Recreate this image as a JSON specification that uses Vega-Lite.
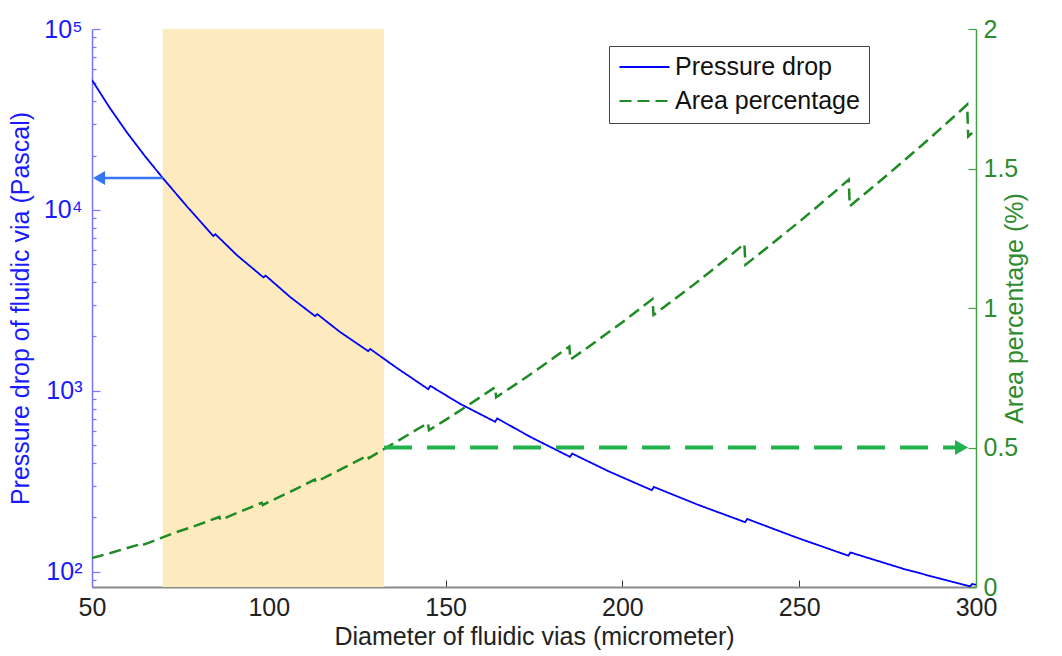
{
  "$schema": "https://vega.github.io/schema/vega-lite/v6.json",
  "autosize": "none",
  "width": 884,
  "height": 558,
  "padding": {"left": 92, "top": 29, "right": 86, "bottom": 69},
  "background": "white",
  "config": {
    "font": "Liberation Sans",
    "view": {"stroke": null},
    "axis": {"grid": false, "titleFontWeight": "normal", "labelFontSize": 25, "titleFontSize": 25}
  },
  "datasets": {
    "pressure": [
      {"d": 50, "p": 52240, "series": "Pressure drop"},
      {"d": 55, "p": 36730, "series": "Pressure drop"},
      {"d": 60, "p": 26610, "series": "Pressure drop"},
      {"d": 65, "p": 19820, "series": "Pressure drop"},
      {"d": 70, "p": 15030, "series": "Pressure drop"},
      {"d": 77, "p": 10380, "series": "Pressure drop"},
      {"d": 84.3, "p": 7180, "series": "Pressure drop"},
      {"d": 84.9, "p": 7350, "series": "Pressure drop"},
      {"d": 91, "p": 5623, "series": "Pressure drop"},
      {"d": 98.5, "p": 4240, "series": "Pressure drop"},
      {"d": 99.1, "p": 4340, "series": "Pressure drop"},
      {"d": 106, "p": 3311, "series": "Pressure drop"},
      {"d": 113.1, "p": 2590, "series": "Pressure drop"},
      {"d": 113.7, "p": 2660, "series": "Pressure drop"},
      {"d": 120, "p": 2128, "series": "Pressure drop"},
      {"d": 128.1, "p": 1660, "series": "Pressure drop"},
      {"d": 128.7, "p": 1705, "series": "Pressure drop"},
      {"d": 136, "p": 1349, "series": "Pressure drop"},
      {"d": 145.1, "p": 1023, "series": "Pressure drop"},
      {"d": 145.7, "p": 1067, "series": "Pressure drop"},
      {"d": 154, "p": 851, "series": "Pressure drop"},
      {"d": 164, "p": 676, "series": "Pressure drop"},
      {"d": 164.6, "p": 705, "series": "Pressure drop"},
      {"d": 174, "p": 557, "series": "Pressure drop"},
      {"d": 185.2, "p": 432.5, "series": "Pressure drop"},
      {"d": 185.8, "p": 451, "series": "Pressure drop"},
      {"d": 196, "p": 360.6, "series": "Pressure drop"},
      {"d": 208.3, "p": 283.1, "series": "Pressure drop"},
      {"d": 208.9, "p": 295.1, "series": "Pressure drop"},
      {"d": 221, "p": 236.6, "series": "Pressure drop"},
      {"d": 234.7, "p": 188.4, "series": "Pressure drop"},
      {"d": 235.3, "p": 196.3, "series": "Pressure drop"},
      {"d": 249, "p": 155.6, "series": "Pressure drop"},
      {"d": 263.9, "p": 123.0, "series": "Pressure drop"},
      {"d": 264.5, "p": 128.2, "series": "Pressure drop"},
      {"d": 280, "p": 103.3, "series": "Pressure drop"},
      {"d": 298.3, "p": 83.2, "series": "Pressure drop"},
      {"d": 298.9, "p": 85.8, "series": "Pressure drop"},
      {"d": 300, "p": 85.0, "series": "Pressure drop"}
    ],
    "area": [
      {"d": 50, "a": 0.104, "series": "Area percentage"},
      {"d": 55, "a": 0.121, "series": "Area percentage"},
      {"d": 60, "a": 0.140, "series": "Area percentage"},
      {"d": 62.7, "a": 0.150, "series": "Area percentage"},
      {"d": 62.9, "a": 0.145, "series": "Area percentage"},
      {"d": 66, "a": 0.158, "series": "Area percentage"},
      {"d": 70, "a": 0.178, "series": "Area percentage"},
      {"d": 74, "a": 0.197, "series": "Area percentage"},
      {"d": 78, "a": 0.214, "series": "Area percentage"},
      {"d": 82, "a": 0.232, "series": "Area percentage"},
      {"d": 86, "a": 0.251, "series": "Area percentage"},
      {"d": 86.3, "a": 0.240, "series": "Area percentage"},
      {"d": 90, "a": 0.260, "series": "Area percentage"},
      {"d": 94, "a": 0.281, "series": "Area percentage"},
      {"d": 98, "a": 0.302, "series": "Area percentage"},
      {"d": 98.3, "a": 0.294, "series": "Area percentage"},
      {"d": 102, "a": 0.317, "series": "Area percentage"},
      {"d": 106, "a": 0.341, "series": "Area percentage"},
      {"d": 110, "a": 0.366, "series": "Area percentage"},
      {"d": 113, "a": 0.385, "series": "Area percentage"},
      {"d": 113.3, "a": 0.376, "series": "Area percentage"},
      {"d": 117, "a": 0.400, "series": "Area percentage"},
      {"d": 121, "a": 0.426, "series": "Area percentage"},
      {"d": 125, "a": 0.452, "series": "Area percentage"},
      {"d": 128, "a": 0.472, "series": "Area percentage"},
      {"d": 128.3, "a": 0.462, "series": "Area percentage"},
      {"d": 132, "a": 0.490, "series": "Area percentage"},
      {"d": 136, "a": 0.520, "series": "Area percentage"},
      {"d": 140, "a": 0.550, "series": "Area percentage"},
      {"d": 145, "a": 0.588, "series": "Area percentage"},
      {"d": 145.3, "a": 0.562, "series": "Area percentage"},
      {"d": 150, "a": 0.599, "series": "Area percentage"},
      {"d": 155, "a": 0.640, "series": "Area percentage"},
      {"d": 160, "a": 0.682, "series": "Area percentage"},
      {"d": 164, "a": 0.716, "series": "Area percentage"},
      {"d": 164.3, "a": 0.680, "series": "Area percentage"},
      {"d": 170, "a": 0.728, "series": "Area percentage"},
      {"d": 175, "a": 0.771, "series": "Area percentage"},
      {"d": 180, "a": 0.816, "series": "Area percentage"},
      {"d": 185, "a": 0.862, "series": "Area percentage"},
      {"d": 185.3, "a": 0.815, "series": "Area percentage"},
      {"d": 190, "a": 0.857, "series": "Area percentage"},
      {"d": 195, "a": 0.903, "series": "Area percentage"},
      {"d": 200, "a": 0.949, "series": "Area percentage"},
      {"d": 205, "a": 0.998, "series": "Area percentage"},
      {"d": 208.5, "a": 1.032, "series": "Area percentage"},
      {"d": 208.8, "a": 0.975, "series": "Area percentage"},
      {"d": 215, "a": 1.034, "series": "Area percentage"},
      {"d": 220, "a": 1.082, "series": "Area percentage"},
      {"d": 225, "a": 1.132, "series": "Area percentage"},
      {"d": 230, "a": 1.183, "series": "Area percentage"},
      {"d": 234.5, "a": 1.230, "series": "Area percentage"},
      {"d": 234.8, "a": 1.155, "series": "Area percentage"},
      {"d": 240, "a": 1.207, "series": "Area percentage"},
      {"d": 245, "a": 1.258, "series": "Area percentage"},
      {"d": 250, "a": 1.309, "series": "Area percentage"},
      {"d": 255, "a": 1.362, "series": "Area percentage"},
      {"d": 260, "a": 1.416, "series": "Area percentage"},
      {"d": 264, "a": 1.460, "series": "Area percentage"},
      {"d": 264.3, "a": 1.365, "series": "Area percentage"},
      {"d": 270, "a": 1.425, "series": "Area percentage"},
      {"d": 275, "a": 1.478, "series": "Area percentage"},
      {"d": 280, "a": 1.532, "series": "Area percentage"},
      {"d": 285, "a": 1.587, "series": "Area percentage"},
      {"d": 290, "a": 1.643, "series": "Area percentage"},
      {"d": 295, "a": 1.700, "series": "Area percentage"},
      {"d": 297.5, "a": 1.729, "series": "Area percentage"},
      {"d": 297.8, "a": 1.615, "series": "Area percentage"},
      {"d": 300, "a": 1.640, "series": "Area percentage"}
    ],
    "band": [{"start": 70, "end": 132.6}],
    "blueArrow": [{"from": 70, "to": 52, "level": 15000}],
    "greenArrow": [{"from": 132.6, "to": 295.9, "level": 0.5}]
  },
  "layer": [
    {
      "data": {"name": "band"},
      "mark": {"type": "rect", "color": "#fdebbf", "opacity": 1},
      "encoding": {
        "x": {"field": "start", "type": "quantitative", "scale": {"domain": [50, 300], "nice": false, "zero": false},
          "axis": {
            "orient": "bottom",
            "values": [50, 100, 150, 200, 250, 300],
            "title": "Diameter of fluidic vias (micrometer)",
            "labelColor": "#222222",
            "titleColor": "#222222",
            "domainColor": "#8a8a8a",
            "domainWidth": 2,
            "tickColor": "#333333",
            "tickSize": -7,
            "tickWidth": 1,
            "labelPadding": 15,
            "titlePadding": 4,
            "labelFlush": false
          }
        },
        "x2": {"field": "end"}
      }
    },
    {
      "layer": [
        {
          "data": {"name": "pressure"},
          "mark": {"type": "line", "strokeWidth": 1.8, "clip": true},
          "encoding": {
            "x": {"field": "d", "type": "quantitative"},
            "y": {"field": "p", "type": "quantitative",
              "scale": {"type": "log", "domain": [82.6, 100000], "nice": false},
              "axis": {
                "orient": "left",
                "values": [90, 100, 200, 300, 400, 500, 600, 700, 800, 900, 1000, 2000, 3000, 4000, 5000, 6000, 7000, 8000, 9000, 10000, 20000, 30000, 40000, 50000, 60000, 70000, 80000, 90000, 100000],
                "labelExpr": "datum.value === 100 ? '10²' : datum.value === 1000 ? '10³' : datum.value === 10000 ? '10⁴' : datum.value === 100000 ? '10⁵' : ''",
                "labelOverlap": false,
                "title": "Pressure drop of fluidic via (Pascal)",
                "labelColor": "#1a1aff",
                "titleColor": "#1a1aff",
                "domainColor": "#7777ff",
                "domainWidth": 1.5,
                "tickColor": "#7777ff",
                "tickSize": {"condition": {"test": "datum.value === 100 || datum.value === 1000 || datum.value === 10000 || datum.value === 100000", "value": -8}, "value": -4},
                "tickWidth": 1.2,
                "labelPadding": 18,
                "titlePadding": 10
              }
            },
            "color": {"field": "series", "type": "nominal",
              "scale": {"domain": ["Pressure drop", "Area percentage"], "range": ["#0000ff", "#1f8b24"]},
              "legend": {
                "title": null, "orient": "none", "legendX": 517, "legendY": 17,
                "symbolType": "stroke", "symbolSize": 2500, "symbolStrokeWidth": 2.2,
                "labelFontSize": 25, "labelColor": "#111111", "labelOffset": 4, "labelLimit": 400,
                "padding": 9, "rowPadding": 9, "clipHeight": 24,
                "strokeColor": "#444444", "fillColor": "white"
              }
            },
            "strokeDash": {"field": "series", "type": "nominal",
              "scale": {"domain": ["Pressure drop", "Area percentage"], "range": [[1, 0], [12, 6]]},
              "legend": {
                "title": null, "orient": "none", "legendX": 517, "legendY": 17,
                "symbolType": "stroke", "symbolSize": 2500, "symbolStrokeWidth": 2.2,
                "labelFontSize": 25, "labelColor": "#111111", "labelOffset": 4, "labelLimit": 400,
                "padding": 9, "rowPadding": 9, "clipHeight": 24,
                "strokeColor": "#444444", "fillColor": "white"
              }
            }
          }
        },
        {
          "data": {"name": "blueArrow"},
          "mark": {"type": "rule", "color": "#3574f2", "strokeWidth": 2.5},
          "encoding": {
            "x": {"field": "from", "type": "quantitative"},
            "x2": {"field": "to"},
            "y": {"field": "level", "type": "quantitative"}
          }
        },
        {
          "data": {"name": "blueArrow"},
          "mark": {"type": "point", "shape": "triangle-left", "filled": true, "color": "#3574f2", "size": 196, "opacity": 1},
          "encoding": {
            "x": {"field": "to", "type": "quantitative"},
            "y": {"field": "level", "type": "quantitative"}
          }
        }
      ]
    },
    {
      "layer": [
        {
          "data": {"name": "area"},
          "mark": {"type": "line", "strokeWidth": 2.5, "clip": true},
          "encoding": {
            "x": {"field": "d", "type": "quantitative"},
            "y": {"field": "a", "type": "quantitative",
              "scale": {"domain": [0, 2], "nice": false, "zero": false},
              "axis": {
                "orient": "right",
                "values": [0, 0.5, 1, 1.5, 2],
                "format": "~g",
                "title": "Area percentage (%)",
                "titleAngle": -90,
                "labelColor": "#2e8b2e",
                "titleColor": "#2e8b2e",
                "domainColor": "#44a044",
                "domainWidth": 1.5,
                "tickColor": "#44a044",
                "tickSize": -8,
                "tickWidth": 1.2,
                "labelPadding": 15,
                "titlePadding": 10,
                "labelFlush": false
              }
            },
            "color": {"field": "series", "type": "nominal"},
            "strokeDash": {"field": "series", "type": "nominal"}
          }
        },
        {
          "data": {"name": "greenArrow"},
          "mark": {"type": "rule", "color": "#22b24c", "strokeWidth": 4, "strokeDash": [28, 15]},
          "encoding": {
            "x": {"field": "from", "type": "quantitative"},
            "x2": {"field": "to"},
            "y": {"field": "level", "type": "quantitative"}
          }
        },
        {
          "data": {"name": "greenArrow"},
          "mark": {"type": "point", "shape": "triangle-right", "filled": true, "color": "#22b24c", "size": 225, "opacity": 1},
          "encoding": {
            "x": {"field": "to", "type": "quantitative"},
            "y": {"field": "level", "type": "quantitative"}
          }
        }
      ]
    }
  ],
  "resolve": {"scale": {"y": "independent"}, "axis": {"y": "independent"}}
}
